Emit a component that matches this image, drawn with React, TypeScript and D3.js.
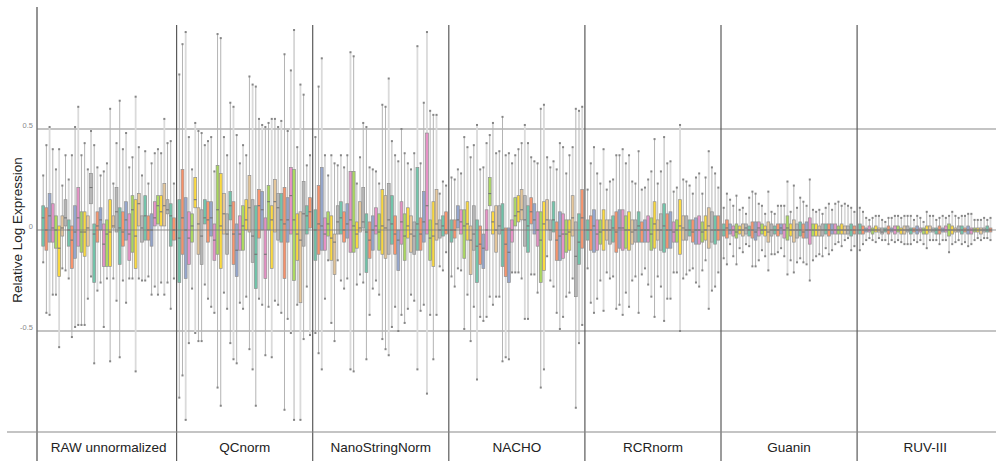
import React, { useRef, useEffect } from 'react';
import * as d3 from 'd3';

const panel_names = ['RAW unnormalized', 'QCnorm', 'NanoStringNorm', 'NACHO', 'RCRnorm', 'Guanin', 'RUV-III'];
const tick_values = [0.5, 0, -0.5];
const tick_labels = ['0.5', '0', '-0.5'];
const box_colors = ['#66c2a5', '#fc8d62', '#8da0cb', '#e78ac3', '#a6d854', '#ffd92f', '#e5c494', '#b3b3b3'];

// each box: [lower whisker, q1, median, q3, upper whisker]
const raw_boxes = [
    [-0.16, -0.08, 0.06, 0.12, 0.27], [-0.41, -0.1, 0.0, 0.11, 0.42], [-0.42, -0.06, 0.07, 0.18, 0.51],
    [-0.32, -0.06, 0.01, 0.13, 0.4], [-0.32, -0.09, 0.0, 0.07, 0.3], [-0.58, -0.23, -0.09, 0.02, 0.4],
    [-0.19, -0.03, 0.01, 0.07, 0.22], [-0.2, 0.02, 0.06, 0.15, 0.37], [-0.24, -0.08, 0.0, 0.05, 0.25],
    [-0.53, -0.19, -0.05, 0.02, 0.37], [-0.48, -0.14, -0.01, 0.12, 0.51], [-0.47, -0.08, 0.06, 0.21, 0.61],
    [-0.47, -0.11, -0.01, 0.09, 0.37], [-0.47, -0.13, -0.01, 0.09, 0.43], [-0.34, -0.08, 0.01, 0.07, 0.3],
    [-0.23, 0.13, 0.21, 0.28, 0.49], [-0.66, -0.26, -0.02, 0.03, 0.42], [-0.3, -0.06, 0.02, 0.09, 0.31],
    [-0.26, 0.0, 0.05, 0.11, 0.27], [-0.48, -0.18, -0.07, 0.03, 0.29], [-0.24, -0.18, -0.02, 0.05, 0.33],
    [-0.65, -0.18, -0.01, 0.15, 0.6], [-0.24, 0.01, 0.02, 0.07, 0.23], [-0.35, -0.01, 0.09, 0.21, 0.43],
    [-0.63, -0.17, 0.01, 0.11, 0.64], [-0.25, -0.08, -0.01, 0.09, 0.4], [-0.36, -0.05, 0.05, 0.14, 0.48],
    [-0.24, -0.15, -0.02, 0.08, 0.31], [-0.24, -0.11, 0.1, 0.17, 0.36], [-0.7, -0.19, -0.03, 0.15, 0.66],
    [-0.24, 0.02, 0.13, 0.18, 0.41], [-0.25, -0.06, 0.01, 0.07, 0.27], [-0.25, -0.05, 0.07, 0.17, 0.39],
    [-0.23, -0.05, 0.0, 0.07, 0.23], [-0.32, -0.08, 0.0, 0.08, 0.33], [-0.28, 0.02, 0.06, 0.14, 0.38],
    [-0.32, 0.03, 0.12, 0.17, 0.4], [-0.26, 0.02, 0.09, 0.17, 0.38], [-0.32, 0.02, 0.12, 0.23, 0.55],
    [-0.26, 0.08, 0.1, 0.15, 0.43], [-0.39, -0.08, 0.07, 0.13, 0.44], [-0.24, -0.05, 0.0, 0.06, 0.23],
];

const qcnorm_boxes = [
    [-0.83, -0.26, -0.04, 0.15, 0.77], [-0.72, -0.12, 0.06, 0.3, 0.92], [-0.94, -0.24, 0.0, 0.16, 0.98],
    [-0.56, -0.17, -0.04, 0.09, 0.46], [-0.29, -0.06, 0.02, 0.08, 0.3], [-0.51, 0.11, 0.15, 0.26, 0.53],
    [-0.55, -0.12, 0.03, 0.11, 0.49], [-0.55, -0.17, -0.03, 0.1, 0.48], [-0.27, 0.03, 0.06, 0.15, 0.42],
    [-0.34, -0.06, 0.05, 0.14, 0.44], [-0.38, -0.03, 0.06, 0.14, 0.46], [-0.41, -0.15, -0.05, 0.03, 0.29],
    [-0.78, -0.12, 0.1, 0.32, 0.97], [-0.87, -0.19, 0.02, 0.28, 0.95], [-0.31, -0.02, 0.08, 0.18, 0.46],
    [-0.39, -0.12, -0.02, 0.08, 0.37], [-0.56, 0.05, 0.12, 0.19, 0.63], [-0.64, -0.17, -0.02, 0.14, 0.61],
    [-0.66, -0.23, -0.1, 0.03, 0.47], [-0.36, -0.1, -0.02, 0.07, 0.33], [-0.39, -0.1, 0.02, 0.12, 0.42],
    [-0.33, 0.0, 0.05, 0.15, 0.37], [-0.59, -0.01, 0.11, 0.27, 0.76], [-0.69, -0.16, -0.03, 0.15, 0.72],
    [-0.87, -0.29, -0.12, 0.12, 0.71], [-0.34, -0.04, 0.12, 0.2, 0.55], [-0.37, 0.0, 0.1, 0.19, 0.52],
    [-0.62, -0.24, -0.12, 0.06, 0.51], [-0.38, 0.0, 0.14, 0.22, 0.53], [-0.63, -0.19, 0.05, 0.12, 0.55],
    [-0.35, -0.01, 0.14, 0.25, 0.55], [-0.37, -0.05, 0.11, 0.18, 0.51], [-0.41, -0.06, 0.05, 0.18, 0.54],
    [-0.89, -0.24, 0.03, 0.21, 0.87], [-0.44, -0.06, 0.05, 0.16, 0.49], [-0.51, -0.02, 0.17, 0.31, 0.79],
    [-0.94, -0.25, 0.05, 0.3, 0.99], [-0.37, -0.15, -0.02, 0.08, 0.41], [-0.94, -0.36, -0.05, 0.09, 0.72],
    [-0.54, -0.08, 0.08, 0.24, 0.67], [-0.28, -0.02, 0.07, 0.12, 0.32], [-0.52, 0.01, 0.09, 0.16, 0.37],
];

const nanostringnorm_boxes = [
    [-0.51, -0.15, 0.0, 0.1, 0.46], [-0.61, -0.12, 0.03, 0.22, 0.71], [-0.69, -0.1, 0.02, 0.31, 0.85],
    [-0.34, -0.1, -0.02, 0.06, 0.37], [-0.15, -0.03, 0.03, 0.09, 0.27], [-0.46, -0.15, -0.04, 0.07, 0.37],
    [-0.55, -0.22, -0.06, -0.02, 0.33], [-0.15, -0.02, 0.04, 0.12, 0.32], [-0.25, -0.02, 0.06, 0.14, 0.37],
    [-0.29, -0.06, 0.0, 0.09, 0.31], [-0.24, -0.04, 0.03, 0.13, 0.37], [-0.69, -0.11, 0.05, 0.29, 0.88],
    [-0.7, -0.11, 0.02, 0.29, 0.86], [-0.27, -0.09, -0.02, 0.04, 0.23], [-0.22, -0.01, 0.01, 0.14, 0.36],
    [-0.26, 0.01, 0.04, 0.21, 0.53], [-0.64, -0.21, -0.01, 0.08, 0.51], [-0.42, -0.14, -0.05, 0.04, 0.31],
    [-0.29, -0.1, 0.0, 0.07, 0.3], [-0.25, -0.02, 0.02, 0.11, 0.29], [-0.32, -0.1, -0.01, 0.08, 0.23],
    [-0.54, -0.12, 0.02, 0.2, 0.62], [-0.59, -0.14, 0.01, 0.17, 0.61], [-0.62, -0.12, 0.05, 0.23, 0.75],
    [-0.48, -0.07, 0.03, 0.17, 0.44], [-0.38, -0.12, -0.02, 0.07, 0.37], [-0.5, -0.2, -0.05, 0.0, 0.34],
    [-0.42, -0.07, 0.04, 0.14, 0.5], [-0.46, -0.15, -0.03, 0.08, 0.38], [-0.39, -0.04, 0.02, 0.11, 0.33],
    [-0.32, -0.11, -0.02, 0.07, 0.3], [-0.35, -0.12, -0.03, 0.04, 0.38], [-0.69, -0.1, 0.03, 0.31, 0.91],
    [-0.4, -0.1, -0.02, 0.06, 0.33], [-0.37, -0.06, 0.04, 0.19, 0.63], [-0.81, -0.02, 0.12, 0.48, 0.98],
    [-0.42, -0.15, -0.04, 0.05, 0.59], [-0.64, -0.18, -0.03, 0.14, 0.57], [-0.42, -0.05, 0.03, 0.2, 0.57],
    [-0.18, -0.04, 0.0, 0.05, 0.18], [-0.2, -0.03, 0.02, 0.07, 0.24], [-0.11, -0.02, 0.0, 0.09, 0.22],
];

const nacho_boxes = [
    [-0.23, -0.06, 0.0, 0.05, 0.26], [-0.28, -0.04, 0.0, 0.05, 0.25], [-0.19, 0.01, 0.05, 0.12, 0.3],
    [-0.2, -0.02, 0.04, 0.1, 0.28], [-0.49, -0.14, 0.02, 0.1, 0.46], [-0.32, -0.05, 0.03, 0.14, 0.41],
    [-0.55, -0.22, -0.05, 0.02, 0.36], [-0.38, -0.1, -0.02, 0.12, 0.42], [-0.74, -0.26, -0.08, 0.05, 0.52],
    [-0.43, -0.17, -0.07, 0.02, 0.3], [-0.45, -0.19, -0.09, -0.02, 0.31], [-0.43, -0.1, 0.0, 0.1, 0.43],
    [-0.33, 0.12, 0.18, 0.26, 0.47], [-0.37, -0.02, 0.04, 0.09, 0.53], [-0.33, -0.11, 0.0, 0.12, 0.38],
    [-0.33, -0.02, 0.02, 0.12, 0.39], [-0.65, -0.18, 0.0, 0.13, 0.56], [-0.63, -0.23, -0.07, 0.01, 0.37],
    [-0.64, -0.26, -0.11, 0.01, 0.38], [-0.21, -0.06, 0.0, 0.05, 0.33], [-0.21, 0.02, 0.07, 0.16, 0.37],
    [-0.21, 0.04, 0.09, 0.17, 0.4], [-0.24, 0.05, 0.1, 0.2, 0.43], [-0.44, -0.08, 0.05, 0.17, 0.52],
    [-0.44, -0.11, 0.02, 0.12, 0.43], [-0.22, 0.03, 0.09, 0.16, 0.36], [-0.22, -0.02, 0.05, 0.13, 0.34],
    [-0.31, -0.08, 0.0, 0.09, 0.33], [-0.78, -0.26, -0.05, 0.09, 0.6], [-0.69, -0.2, 0.03, 0.14, 0.62],
    [-0.13, 0.0, 0.05, 0.15, 0.36], [-0.25, -0.05, 0.0, 0.05, 0.31], [-0.28, -0.01, 0.05, 0.14, 0.34],
    [-0.41, -0.15, -0.05, 0.04, 0.3], [-0.49, -0.15, -0.03, 0.09, 0.43], [-0.43, -0.14, -0.02, 0.08, 0.41],
    [-0.33, -0.11, -0.02, 0.05, 0.28], [-0.31, -0.1, -0.01, 0.05, 0.37], [-0.24, -0.03, 0.06, 0.17, 0.41],
    [-0.88, -0.33, -0.13, 0.04, 0.6], [-0.56, -0.17, -0.06, 0.08, 0.59], [-0.47, -0.09, 0.06, 0.2, 0.61],
];

const rcrnorm_boxes = [
    [-0.19, -0.05, 0.0, 0.05, 0.2], [-0.36, -0.1, 0.0, 0.07, 0.33], [-0.41, -0.11, 0.02, 0.1, 0.41],
    [-0.34, -0.1, -0.02, 0.05, 0.28], [-0.25, -0.07, -0.01, 0.05, 0.23], [-0.4, -0.1, 0.0, 0.1, 0.4],
    [-0.21, -0.05, 0.0, 0.05, 0.2], [-0.24, -0.07, 0.0, 0.05, 0.24], [-0.23, -0.06, 0.01, 0.07, 0.25],
    [-0.39, -0.11, -0.01, 0.09, 0.37], [-0.37, -0.09, 0.01, 0.1, 0.37], [-0.42, -0.1, 0.01, 0.1, 0.4],
    [-0.31, -0.09, 0.0, 0.07, 0.33], [-0.38, -0.1, 0.0, 0.09, 0.37], [-0.25, -0.07, -0.01, 0.05, 0.24],
    [-0.23, -0.06, 0.0, 0.05, 0.23], [-0.41, -0.06, 0.02, 0.09, 0.39], [-0.22, -0.06, 0.0, 0.04, 0.2],
    [-0.19, -0.06, 0.0, 0.05, 0.21], [-0.27, -0.06, 0.0, 0.07, 0.25], [-0.33, -0.1, -0.02, 0.06, 0.29],
    [-0.43, -0.09, 0.03, 0.14, 0.45], [-0.23, -0.05, 0.0, 0.05, 0.23], [-0.28, -0.1, 0.0, 0.08, 0.29],
    [-0.45, -0.11, 0.02, 0.13, 0.46], [-0.34, -0.09, 0.0, 0.08, 0.33], [-0.34, -0.09, 0.0, 0.09, 0.34],
    [-0.21, -0.06, -0.01, 0.04, 0.19], [-0.21, -0.06, 0.0, 0.05, 0.21], [-0.5, -0.12, 0.02, 0.15, 0.52],
    [-0.24, -0.05, 0.01, 0.07, 0.25], [-0.22, -0.05, 0.0, 0.07, 0.24], [-0.2, -0.03, 0.0, 0.05, 0.22],
    [-0.19, -0.06, -0.01, 0.05, 0.18], [-0.26, -0.07, 0.0, 0.06, 0.26], [-0.28, -0.07, 0.0, 0.07, 0.28],
    [-0.2, -0.06, -0.01, 0.04, 0.18], [-0.15, -0.05, 0.0, 0.07, 0.26], [-0.39, -0.09, 0.02, 0.11, 0.39],
    [-0.3, -0.06, 0.0, 0.09, 0.31], [-0.28, -0.07, 0.0, 0.07, 0.28], [-0.21, -0.05, 0.0, 0.07, 0.21],
];

const guanin_boxes = [
    [-0.14, -0.03, 0.0, 0.03, 0.11], [-0.17, -0.04, 0.01, 0.05, 0.18], [-0.07, -0.02, 0.0, 0.03, 0.15],
    [-0.13, -0.03, 0.0, 0.02, 0.12], [-0.17, -0.04, -0.01, 0.03, 0.17], [-0.09, -0.02, 0.0, 0.02, 0.1],
    [-0.11, -0.03, 0.0, 0.03, 0.11], [-0.07, -0.02, 0.01, 0.03, 0.08], [-0.08, -0.03, 0.0, 0.02, 0.16],
    [-0.18, -0.04, 0.0, 0.04, 0.19], [-0.18, -0.05, -0.01, 0.04, 0.18], [-0.15, -0.03, 0.01, 0.04, 0.13],
    [-0.1, -0.02, 0.0, 0.03, 0.12], [-0.13, -0.03, 0.0, 0.02, 0.08], [-0.2, -0.06, -0.01, 0.04, 0.19],
    [-0.12, -0.03, 0.0, 0.03, 0.09], [-0.12, -0.02, 0.0, 0.02, 0.08], [-0.11, -0.03, 0.0, 0.03, 0.12],
    [-0.09, -0.02, 0.01, 0.03, 0.12], [-0.13, -0.04, 0.0, 0.03, 0.12], [-0.22, -0.05, 0.01, 0.07, 0.24],
    [-0.15, -0.03, 0.0, 0.03, 0.09], [-0.21, -0.06, 0.0, 0.05, 0.22], [-0.16, -0.04, 0.0, 0.03, 0.11],
    [-0.14, -0.03, 0.0, 0.04, 0.16], [-0.16, -0.04, -0.01, 0.03, 0.14], [-0.17, -0.04, 0.0, 0.04, 0.12],
    [-0.25, -0.07, 0.0, 0.06, 0.25], [-0.15, -0.03, 0.0, 0.03, 0.1], [-0.13, -0.03, 0.0, 0.03, 0.09],
    [-0.12, -0.03, 0.0, 0.02, 0.1], [-0.13, -0.03, 0.0, 0.03, 0.08], [-0.09, -0.02, 0.0, 0.03, 0.11],
    [-0.12, -0.03, 0.0, 0.03, 0.13], [-0.1, -0.02, 0.0, 0.03, 0.1], [-0.07, -0.02, 0.0, 0.03, 0.13],
    [-0.06, -0.02, 0.0, 0.02, 0.14], [-0.08, -0.02, 0.0, 0.03, 0.12], [-0.05, -0.02, 0.0, 0.02, 0.13],
    [-0.04, -0.02, 0.0, 0.02, 0.12], [-0.1, -0.03, 0.0, 0.03, 0.11], [-0.08, -0.02, 0.0, 0.02, 0.09],
];

const ruv_boxes = [
    [-0.1, -0.02, 0.0, 0.03, 0.11], [-0.07, -0.02, 0.0, 0.02, 0.09], [-0.05, -0.01, 0.0, 0.01, 0.06],
    [-0.04, -0.01, 0.0, 0.02, 0.05], [-0.05, -0.02, 0.0, 0.01, 0.06], [-0.06, -0.01, 0.0, 0.02, 0.07],
    [-0.04, -0.01, 0.0, 0.01, 0.07], [-0.05, -0.02, -0.01, 0.01, 0.05], [-0.05, -0.01, 0.0, 0.01, 0.04],
    [-0.07, -0.02, 0.0, 0.02, 0.06], [-0.05, -0.01, 0.0, 0.01, 0.06], [-0.06, -0.02, 0.0, 0.02, 0.07],
    [-0.05, -0.01, 0.0, 0.02, 0.07], [-0.06, -0.02, 0.0, 0.01, 0.06], [-0.07, -0.02, 0.0, 0.02, 0.07],
    [-0.07, -0.01, 0.0, 0.02, 0.07], [-0.07, -0.02, 0.0, 0.01, 0.07], [-0.05, -0.01, 0.0, 0.01, 0.05],
    [-0.06, -0.02, 0.0, 0.02, 0.07], [-0.05, -0.01, 0.0, 0.01, 0.06], [-0.07, -0.02, 0.0, 0.01, 0.04],
    [-0.09, -0.02, 0.0, 0.02, 0.09], [-0.05, -0.01, 0.0, 0.02, 0.07], [-0.05, -0.01, 0.0, 0.01, 0.07],
    [-0.05, -0.02, 0.0, 0.01, 0.05], [-0.07, -0.02, 0.0, 0.02, 0.06], [-0.05, -0.01, 0.0, 0.01, 0.07],
    [-0.05, -0.01, 0.0, 0.02, 0.06], [-0.11, -0.03, 0.0, 0.03, 0.07], [-0.07, -0.02, 0.0, 0.02, 0.09],
    [-0.06, -0.01, 0.0, 0.01, 0.07], [-0.05, -0.01, 0.0, 0.02, 0.06], [-0.07, -0.02, 0.0, 0.02, 0.07],
    [-0.06, -0.01, 0.0, 0.01, 0.07], [-0.08, -0.02, 0.0, 0.02, 0.08], [-0.07, -0.02, 0.0, 0.01, 0.08],
    [-0.05, -0.01, 0.0, 0.01, 0.05], [-0.04, -0.01, 0.0, 0.01, 0.05], [-0.05, -0.02, 0.0, 0.01, 0.05],
    [-0.04, -0.01, 0.0, 0.01, 0.06], [-0.04, -0.01, 0.0, 0.02, 0.05], [-0.05, -0.01, 0.0, 0.01, 0.06],
];

const panel_boxes = [raw_boxes, qcnorm_boxes, nanostringnorm_boxes, nacho_boxes, rcrnorm_boxes, guanin_boxes, ruv_boxes];

function RlePlot() {
    const svg_ref = useRef(null);

    useEffect(() => {
        const svg = d3.select(svg_ref.current);
        svg.selectAll('*').remove();

        const width = 996;
        const height = 461;
        const axis_x = 37;
        const strip_top = 432;

        const y = d3.scaleLinear([-0.5, 0.5], [331, 129]);
        const x_panel = d3.scaleBand(d3.range(panel_names.length), [40.5, 993.2]).padding(0);

        // grid lines at +-0.5
        svg.append('g')
            .selectAll('line')
            .data(tick_values.filter((d) => d !== 0))
            .join('line')
            .attr('x1', axis_x)
            .attr('x2', width)
            .attr('y1', (d) => y(d))
            .attr('y2', (d) => y(d))
            .attr('stroke', '#8a8a8a')
            .attr('stroke-width', 1.2);

        panel_boxes.forEach((boxes, p) => {
            const x0 = x_panel(p);
            const x = d3
                .scaleBand(d3.range(boxes.length), [x0, x0 + x_panel.bandwidth()])
                .paddingInner(0.1)
                .paddingOuter(0.4);
            const bw = x.bandwidth();
            const g = svg.append('g');

            const box = g.selectAll('g').data(boxes).join('g');

            box.append('line')
                .attr('x1', (_, i) => x(i) + bw / 2)
                .attr('x2', (_, i) => x(i) + bw / 2)
                .attr('y1', (d) => y(d[4]))
                .attr('y2', (d) => y(d[0]))
                .attr('stroke', (_, i) => (i % 3 === 2 ? '#dadada' : '#b4b4b4'))
                .attr('stroke-width', (_, i) => (i % 3 === 2 ? 1.8 : 1));

            [0, 4].forEach((k) => {
                box.append('rect')
                    .attr('x', (_, i) => x(i) + bw / 2 - 1)
                    .attr('y', (d) => y(d[k]) - 1)
                    .attr('width', 2)
                    .attr('height', 2)
                    .attr('fill', '#858585');
            });

            box.append('rect')
                .attr('x', (_, i) => x(i))
                .attr('y', (d) => y(d[3]))
                .attr('width', bw)
                .attr('height', (d) => Math.max(1, y(d[1]) - y(d[3])))
                .attr('fill', (_, i) => box_colors[i % box_colors.length])
                .attr('fill-opacity', 0.9)
                .attr('stroke', '#8f8f8f')
                .attr('stroke-width', 0.7);

            box.append('line')
                .attr('x1', (_, i) => x(i))
                .attr('x2', (_, i) => x(i) + bw)
                .attr('y1', (d) => y(d[2]))
                .attr('y2', (d) => y(d[2]))
                .attr('stroke', '#6f6f6f')
                .attr('stroke-width', 1);
        });

        // zero line on top of the boxes
        svg.append('line')
            .attr('x1', axis_x)
            .attr('x2', width)
            .attr('y1', y(0))
            .attr('y2', y(0))
            .attr('stroke', '#7a7a7a')
            .attr('stroke-opacity', 0.8)
            .attr('stroke-width', 1);

        // panel separators
        svg.append('g')
            .selectAll('line')
            .data(d3.range(1, panel_names.length))
            .join('line')
            .attr('x1', (d) => x_panel(d))
            .attr('x2', (d) => x_panel(d))
            .attr('y1', 25)
            .attr('y2', height)
            .attr('stroke', '#5a5a5a')
            .attr('stroke-width', 1.2);

        svg.append('line')
            .attr('x1', axis_x)
            .attr('x2', axis_x)
            .attr('y1', 7)
            .attr('y2', height)
            .attr('stroke', '#707070')
            .attr('stroke-width', 1.5);

        svg.append('line')
            .attr('x1', 7)
            .attr('x2', width)
            .attr('y1', strip_top)
            .attr('y2', strip_top)
            .attr('stroke', '#8a8a8a')
            .attr('stroke-width', 1.2);

        svg.append('g')
            .selectAll('text')
            .data(tick_values)
            .join('text')
            .attr('x', 33)
            .attr('y', (d) => y(d) - 1)
            .attr('text-anchor', 'end')
            .attr('font-size', 7.5)
            .attr('fill', '#8a8a8a')
            .text((_, i) => tick_labels[i]);

        svg.append('text')
            .attr('transform', `translate(22,${y(0)}) rotate(-90)`)
            .attr('text-anchor', 'middle')
            .attr('font-size', 13.5)
            .attr('fill', '#222')
            .text('Relative Log Expression');

        svg.append('g')
            .selectAll('text')
            .data(panel_names)
            .join('text')
            .attr('x', (_, i) => x_panel(i) + x_panel.bandwidth() / 2)
            .attr('y', 451.5)
            .attr('text-anchor', 'middle')
            .attr('font-size', 13.5)
            .attr('fill', '#222')
            .text((d) => d);
    }, []);

    return (
        <svg
            ref={svg_ref}
            width={996}
            height={461}
            style={{ position: 'absolute', left: 0, top: 0, fontFamily: '"Liberation Sans", Arial, sans-serif' }}
        ></svg>
    );
}

export default function App() {
    return <RlePlot />;
}
